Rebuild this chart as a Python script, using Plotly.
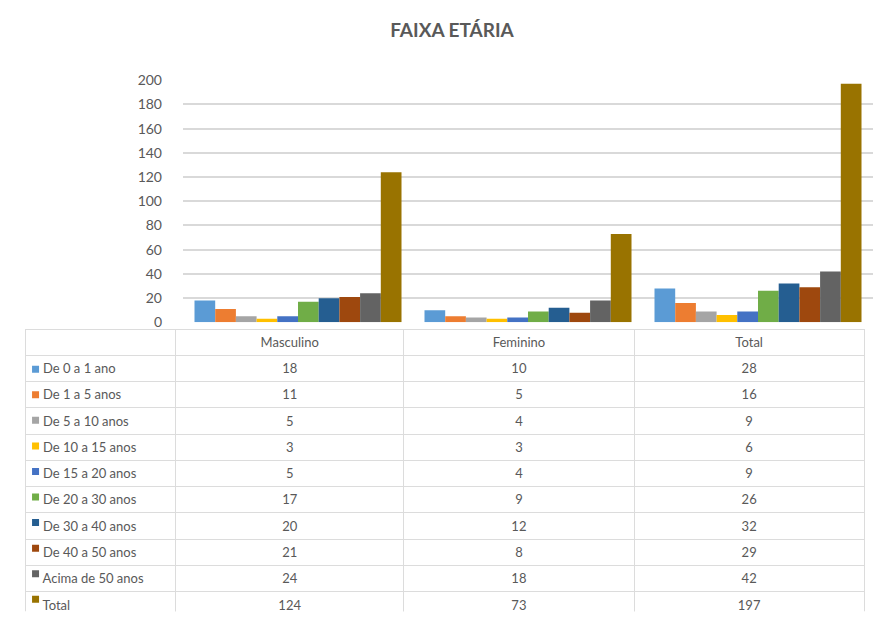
import plotly.graph_objects as go

categories = ["Masculino", "Feminino", "Total"]
series_names = ["De 0 a 1 ano", "De 1 a 5 anos", "De 5 a 10 anos", "De 10 a 15 anos",
                "De 15 a 20 anos", "De 20 a 30 anos", "De 30 a 40 anos", "De 40 a 50 anos",
                "Acima de 50 anos", "Total"]
masculino = [18, 11, 5, 3, 5, 17, 20, 21, 24, 124]
feminino = [10, 5, 4, 3, 4, 9, 12, 8, 18, 73]
total = [28, 16, 9, 6, 9, 26, 32, 29, 42, 197]
colors = ["#5B9BD5", "#ED7D31", "#A5A5A5", "#FFC000", "#4472C4",
          "#70AD47", "#255E91", "#9E480E", "#636363", "#997300"]
yticks = list(range(0, 201, 20))

W, H = 887, 617
OFF = 8  # page body margin offset
FONT = "Lato, 'Open Sans', sans-serif"
TXT = "#595959"
HEADER_H = 26
ROW_H = 26.3


def px_x(x):
    return (x - OFF) / W


def px_y(y):
    return 1 - (y - OFF) / H


fig = go.Figure()
for i, name in enumerate(series_names):
    fig.add_trace(go.Bar(
        x=categories, y=[masculino[i], feminino[i], total[i]], name=name,
        marker=dict(color=colors[i], line=dict(width=0)),
        xaxis="x", yaxis="y", showlegend=False,
    ))

TABLE_TOP = 329
rows_top = TABLE_TOP + HEADER_H
rows_bottom = rows_top + ROW_H * len(series_names)

label_cells = ["\u00a0\u00a0\u00a0" + n for n in series_names]
fig.add_trace(go.Table(
    domain=dict(x=[px_x(25), px_x(865)], y=[px_y(rows_bottom + 2), px_y(TABLE_TOP)]),
    columnwidth=[151, 228, 231, 230],
    header=dict(values=[""] + categories, height=HEADER_H,
                align=["left", "center", "center", "center"],
                fill_color="rgba(0,0,0,0)", line=dict(color="#dcdcdc", width=1),
                font=dict(family=FONT, size=13, color=TXT)),
    cells=dict(values=[label_cells, masculino, feminino, total], height=ROW_H,
               align=["left", "center", "center", "center"],
               fill_color="rgba(0,0,0,0)", line=dict(color="#dcdcdc", width=1),
               font=dict(family=FONT, size=13, color=TXT)),
))

# legend keys (coloured squares) in the label column
fig.add_trace(go.Scatter(
    x=[0] * len(series_names), y=list(range(len(series_names))),
    mode="markers", marker=dict(symbol="square", size=7, color=colors),
    xaxis="x2", yaxis="y2", showlegend=False, hoverinfo="skip",
))

fig.update_layout(
    width=W, height=H,
    margin=dict(l=0, r=0, t=0, b=0),
    paper_bgcolor="white", plot_bgcolor="rgba(0,0,0,0)",
    barmode="group", bargap=0.1, bargroupgap=0.0,
    font=dict(family=FONT, color=TXT, size=13),
    title=dict(text="<b>FAIXA ETÁRIA</b>", x=px_x(452), xanchor="center",
               y=px_y(30), yanchor="middle",
               font=dict(family=FONT, size=19, color=TXT)),
    xaxis=dict(domain=[px_x(183), px_x(873)], showticklabels=False, showgrid=False,
               zeroline=False, showline=False),
    yaxis=dict(domain=[px_y(322), px_y(73)], range=[0, 200], tickvals=yticks,
               showgrid=True, gridcolor="#d9d9d9", gridwidth=1.5, zeroline=False,
               ticklabelstandoff=20, tickfont=dict(family=FONT, size=14, color=TXT)),
    xaxis2=dict(domain=[px_x(27), px_x(178)], range=[-1.2, 20], visible=False,
                fixedrange=True),
    yaxis2=dict(domain=[px_y(rows_bottom + 2), px_y(rows_top + 2)],
                range=[len(series_names) - 0.5, -0.5], visible=False, fixedrange=True),
)

fig.write_html("out.html")
